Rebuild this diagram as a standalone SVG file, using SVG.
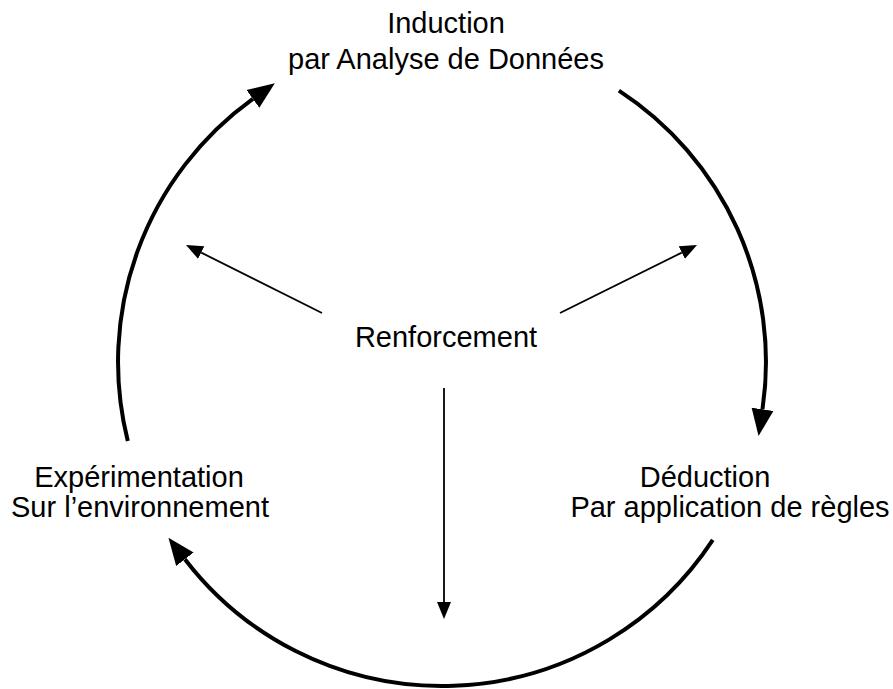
<svg xmlns="http://www.w3.org/2000/svg" width="893" height="689" viewBox="0 0 893 689">
<style>
text{font-family:"Liberation Sans",Arial,sans-serif;font-size:29px;fill:#000;text-anchor:middle}
.big{fill:none;stroke:#000;stroke-width:4;marker-end:url(#bigArrow)}
.thin{fill:none;stroke:#000;stroke-width:1.8;marker-end:url(#smallArrow)}
</style>
<defs>
<marker id="bigArrow" markerUnits="userSpaceOnUse" viewBox="0 -12 28 24" markerWidth="28" markerHeight="24" refX="0" refY="0" orient="auto">
<path d="M0,-11 L27,0 L0,11 z" fill="#000"/>
</marker>
<marker id="smallArrow" markerUnits="userSpaceOnUse" viewBox="0 -8 18 16" markerWidth="18" markerHeight="16" refX="0" refY="0" orient="auto">
<path d="M0,-7 L17,0 L0,7 z" fill="#000"/>
</marker>
</defs>
<g id="connectors">
<path class="big" d="M127.8,440.9 A324,324 0 0 1 252.9,98.9"/>
<path class="big" d="M618.9,90.6 A324,324 0 0 1 762.5,409.3"/>
<path class="big" d="M712.8,539.9 A324,324 0 0 1 184.9,559.2"/>
<path class="thin" d="M322,313 L201.2,252.6"/>
<path class="thin" d="M560,313 L681.8,252.6"/>
<path class="thin" d="M444,388 L444,602"/>
</g>
<g id="induction">
<text x="446" y="33">Induction</text>
<text x="446" y="69">par Analyse de Données</text>
</g>
<g id="deduction">
<text x="705" y="487">Déduction</text>
<text x="730" y="517">Par application de règles</text>
</g>
<g id="experimentation">
<text x="139" y="487">Expérimentation</text>
<text x="140" y="517">Sur l’environnement</text>
</g>
<g id="renforcement">
<text x="446" y="347">Renforcement</text>
</g>
</svg>
